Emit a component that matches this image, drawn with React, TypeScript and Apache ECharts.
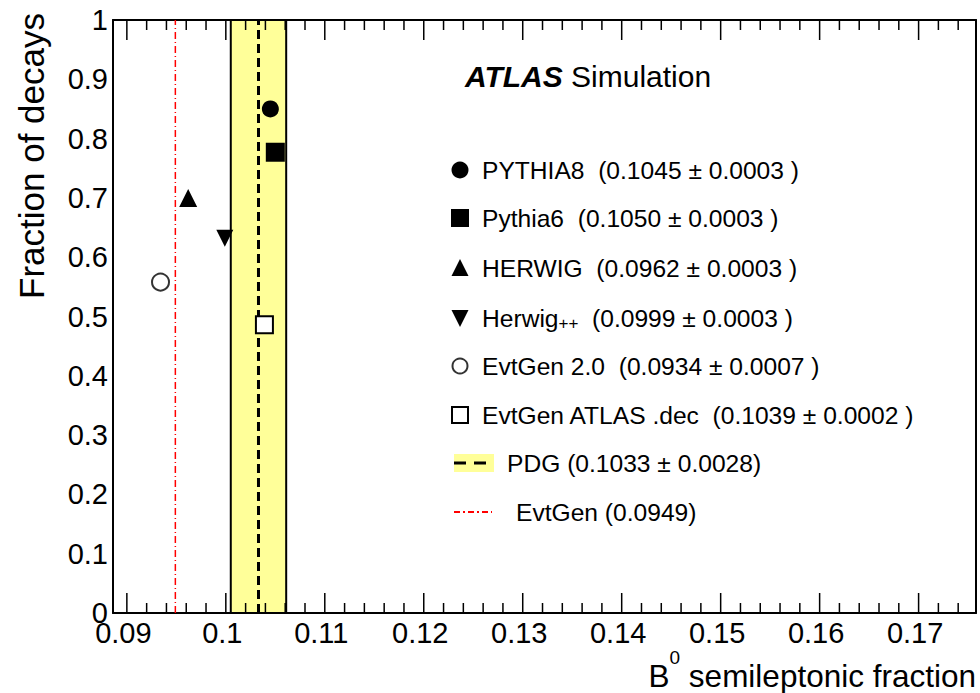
import React, { useEffect, useRef } from "react";
import * as echarts from "echarts";

// ---- data ----
const generatorNames = ["PYTHIA8", "Pythia6", "HERWIG", "Herwig++", "EvtGen 2.0", "EvtGen ATLAS .dec"];
const semileptonicFractions = [0.1045, 0.105, 0.0962, 0.0999, 0.0934, 0.1039];
const semileptonicErrors = [0.0003, 0.0003, 0.0003, 0.0003, 0.0007, 0.0002];
const decayFractions = [0.85, 0.777, 0.7, 0.632, 0.558, 0.486];
const pdgValue = 0.1033;
const pdgError = 0.0028;
const evtgenValue = 0.0949;
const xMajorTicks = [0.09, 0.1, 0.11, 0.12, 0.13, 0.14, 0.15, 0.16, 0.17];
const xMinorTicks = [
  0.092, 0.094, 0.096, 0.098, 0.102, 0.104, 0.106, 0.108, 0.112, 0.114, 0.116, 0.118,
  0.122, 0.124, 0.126, 0.128, 0.132, 0.134, 0.136, 0.138, 0.142, 0.144, 0.146, 0.148,
  0.152, 0.154, 0.156, 0.158, 0.162, 0.164, 0.166, 0.168, 0.172, 0.174,
];
const xRange = [0.0886, 0.1758];
const yRange = [0, 1];
const yInterval = 0.1;

const FONT = "'Liberation Sans', Arial, Helvetica, sans-serif";
const GRID = { left: 113, right: 4, top: 20, bottom: 80 };
const CHART_H = 693;

const symbols = [
  { symbol: "circle", size: 17, rotate: 0, fill: "#000", stroke: "#000", bw: 0 },
  { symbol: "rect", size: 19, rotate: 0, fill: "#000", stroke: "#000", bw: 0 },
  { symbol: "triangle", size: 18, rotate: 0, fill: "#000", stroke: "#000", bw: 0 },
  { symbol: "triangle", size: 17, rotate: 180, fill: "#000", stroke: "#000", bw: 0 },
  { symbol: "circle", size: 17, rotate: 0, fill: "#fff", stroke: "#333", bw: 2 },
  { symbol: "rect", size: 17, rotate: 0, fill: "#fff", stroke: "#000", bw: 2 },
];

const fmt = (v: number) => String(parseFloat(v.toFixed(4)));

export default function App() {
  const ref = useRef<HTMLDivElement>(null);
  useEffect(() => {
    if (!ref.current) return;
    const chart = echarts.init(ref.current, undefined, { renderer: "svg" });

    const scatterSeries = generatorNames.map((name, i) => ({
      name,
      type: "scatter",
      xAxisIndex: 0,
      yAxisIndex: 0,
      z: 5,
      symbol: symbols[i].symbol,
      symbolSize: symbols[i].size,
      symbolRotate: symbols[i].rotate,
      itemStyle: { color: symbols[i].fill, borderColor: symbols[i].stroke, borderWidth: symbols[i].bw, opacity: 1 },
      data: [[semileptonicFractions[i], decayFractions[i]]],
    }));

    // tick marks as short vertical segments (pixel length converted to y-axis units)
    const plotH = CHART_H - GRID.top - GRID.bottom;
    const pxToY = (px: number) => ((yRange[1] - yRange[0]) * px) / plotH;
    const tickLines: any[] = [];
    const addTicks = (ticks: number[], lenPx: number) => {
      ticks.forEach((v) => {
        tickLines.push({
          name: "tick",
          type: "line",
          xAxisIndex: 0,
          yAxisIndex: 0,
          z: 3,
          silent: true,
          symbol: "none",
          lineStyle: { color: "#000", width: 1.5, type: "solid" },
          data: [
            [v, yRange[0]],
            [v, yRange[0] + pxToY(lenPx)],
          ],
        });
        tickLines.push({
          name: "tick",
          type: "line",
          xAxisIndex: 0,
          yAxisIndex: 0,
          z: 3,
          silent: true,
          symbol: "none",
          lineStyle: { color: "#000", width: 1.5, type: "solid" },
          data: [
            [v, yRange[1]],
            [v, yRange[1] - pxToY(lenPx)],
          ],
        });
      });
    };
    addTicks(xMajorTicks, 20);
    addTicks(xMinorTicks, 10);

    const legendRowsY = [170, 218, 268, 318, 366, 415];
    const iconX = 460;
    const legendIcons: any[] = legendRowsY.map((cy, i) => {
      const s = symbols[i];
      const style = { fill: s.fill, stroke: s.stroke, lineWidth: s.bw };
      if (i === 0) return { type: "circle", shape: { cx: iconX, cy, r: 8.5 }, style };
      if (i === 1) return { type: "rect", shape: { x: iconX - 9, y: cy - 9, width: 18, height: 18 }, style };
      if (i === 2)
        return { type: "polygon", shape: { points: [[iconX - 8.5, cy + 8], [iconX + 8.5, cy + 8], [iconX, cy - 9]] }, style };
      if (i === 3)
        return { type: "polygon", shape: { points: [[iconX - 8.5, cy - 8], [iconX + 8.5, cy - 8], [iconX, cy + 9]] }, style };
      if (i === 4) return { type: "circle", shape: { cx: iconX, cy, r: 7.5 }, style };
      return { type: "rect", shape: { x: iconX - 8, y: cy - 8, width: 16, height: 16 }, style };
    });

    const legendTexts: any[] = generatorNames.map((name, i) => {
      const val = `(${semileptonicFractions[i].toFixed(4)} ± ${semileptonicErrors[i].toFixed(4)} )`;
      const isHpp = name === "Herwig++";
      return {
        type: "text",
        x: 482,
        y: legendRowsY[i],
        style: isHpp
          ? {
              text: `{n|Herwig}{p|++}{n|  ${val}}`,
              verticalAlign: "middle",
              align: "left",
              rich: {
                n: { fontSize: 24.6, fontFamily: FONT, fill: "#000", lineHeight: 28 },
                p: { fontSize: 17, fontFamily: FONT, fill: "#000", lineHeight: 24, verticalAlign: "bottom" },
              },
            }
          : {
              text: `${name}  ${val}`,
              fontSize: 24.6,
              fontFamily: FONT,
              fill: "#000",
              verticalAlign: "middle",
              align: "left",
            },
      };
    });

    const frameAxisLine = { show: true, onZero: false, lineStyle: { color: "#000", width: 2 } };

    const option: any = {
      animation: false,
      backgroundColor: "#fff",
      grid: GRID,
      xAxis: [
        {
          type: "value",
          position: "bottom",
          min: xRange[0],
          max: xRange[1],
          axisLine: frameAxisLine,
          axisTick: { show: false },
          axisLabel: {
            show: true,
            customValues: xMajorTicks,
            color: "#000",
            fontSize: 29,
            fontFamily: FONT,
            margin: 5,
            padding: [0, 7, 0, 0],
            formatter: (v: number) => fmt(v),
          },
          splitLine: { show: false },
        },
        {
          type: "value",
          position: "top",
          min: xRange[0],
          max: xRange[1],
          axisLine: frameAxisLine,
          axisTick: { show: false },
          axisLabel: { show: false },
          splitLine: { show: false },
        },
      ],
      yAxis: [
        {
          type: "value",
          position: "left",
          min: yRange[0],
          max: yRange[1],
          interval: yInterval,
          axisLine: frameAxisLine,
          axisTick: { show: false },
          splitLine: { show: false },
          axisLabel: {
            color: "#000",
            fontSize: 29,
            fontFamily: FONT,
            margin: 5,
            formatter: (v: number) => fmt(v),
          },
        },
        {
          type: "value",
          position: "right",
          min: yRange[0],
          max: yRange[1],
          interval: yInterval,
          axisLine: frameAxisLine,
          axisTick: { show: false },
          splitLine: { show: false },
          axisLabel: { show: false },
        },
      ],
      series: [
        {
          name: "PDG",
          type: "line",
          xAxisIndex: 0,
          yAxisIndex: 0,
          z: 3,
          silent: true,
          symbol: "none",
          lineStyle: { color: "#000", width: 3, type: [9, 5] },
          data: [
            [pdgValue, yRange[0]],
            [pdgValue, yRange[1]],
          ],
          markArea: {
            silent: true,
            z: 1,
            itemStyle: { color: "#FFFF99", borderColor: "#000", borderWidth: 2 },
            data: [[{ xAxis: pdgValue - pdgError }, { xAxis: pdgValue + pdgError }]],
          },
        },
        {
          name: "EvtGen",
          type: "line",
          xAxisIndex: 0,
          yAxisIndex: 0,
          z: 3,
          silent: true,
          symbol: "none",
          lineStyle: { color: "#ff0000", width: 1.5, type: [7, 3, 1, 3] },
          data: [
            [evtgenValue, yRange[0]],
            [evtgenValue, yRange[1]],
          ],
        },
        ...tickLines,
        ...scatterSeries,
      ],
      graphic: [
        {
          type: "text",
          x: 31,
          y: 13,
          rotation: Math.PI / 2,
          style: {
            text: "Fraction of decays",
            fontSize: 35,
            fontFamily: FONT,
            fill: "#000",
            align: "right",
            verticalAlign: "middle",
          },
        },
        {
          type: "text",
          x: 976,
          y: 676,
          style: {
            text: "{b|B}{s|0}{b| semileptonic fraction}",
            align: "right",
            verticalAlign: "middle",
            rich: {
              b: { fontSize: 31.5, fontFamily: FONT, fill: "#000", lineHeight: 56 },
              s: { fontSize: 19, fontFamily: FONT, fill: "#000", lineHeight: 19, verticalAlign: "top" },
            },
          },
        },
        {
          type: "text",
          x: 465,
          y: 76,
          style: {
            text: "{a|ATLAS}{b| Simulation}",
            align: "left",
            verticalAlign: "middle",
            rich: {
              a: { fontSize: 30, fontFamily: FONT, fontWeight: "bold", fontStyle: "italic", fill: "#000" },
              b: { fontSize: 30, fontFamily: FONT, fill: "#000" },
            },
          },
        },
        ...legendIcons,
        ...legendTexts,
        { type: "rect", shape: { x: 454, y: 454, width: 40, height: 18 }, style: { fill: "#FFFF99" } },
        {
          type: "line",
          shape: { x1: 454, y1: 463, x2: 490, y2: 463 },
          style: { stroke: "#000", lineWidth: 3, lineDash: [12, 8] },
        },
        {
          type: "text",
          x: 507,
          y: 463,
          style: {
            text: `PDG (${pdgValue.toFixed(4)} ± ${pdgError.toFixed(4)})`,
            fontSize: 24.6,
            fontFamily: FONT,
            fill: "#000",
            verticalAlign: "middle",
          },
        },
        {
          type: "line",
          shape: { x1: 454, y1: 512, x2: 492, y2: 512 },
          style: { stroke: "#ff0000", lineWidth: 2, lineDash: [6, 3, 2, 3] },
        },
        {
          type: "text",
          x: 516,
          y: 512,
          style: {
            text: `EvtGen (${evtgenValue.toFixed(4)})`,
            fontSize: 24.6,
            fontFamily: FONT,
            fill: "#000",
            verticalAlign: "middle",
          },
        },
      ],
    };
    chart.setOption(option);
    return () => chart.dispose();
  }, []);

  return (
    <div
      ref={ref}
      style={{ position: "absolute", left: 0, top: 0, width: 980, height: CHART_H, background: "#fff" }}
    />
  );
}
